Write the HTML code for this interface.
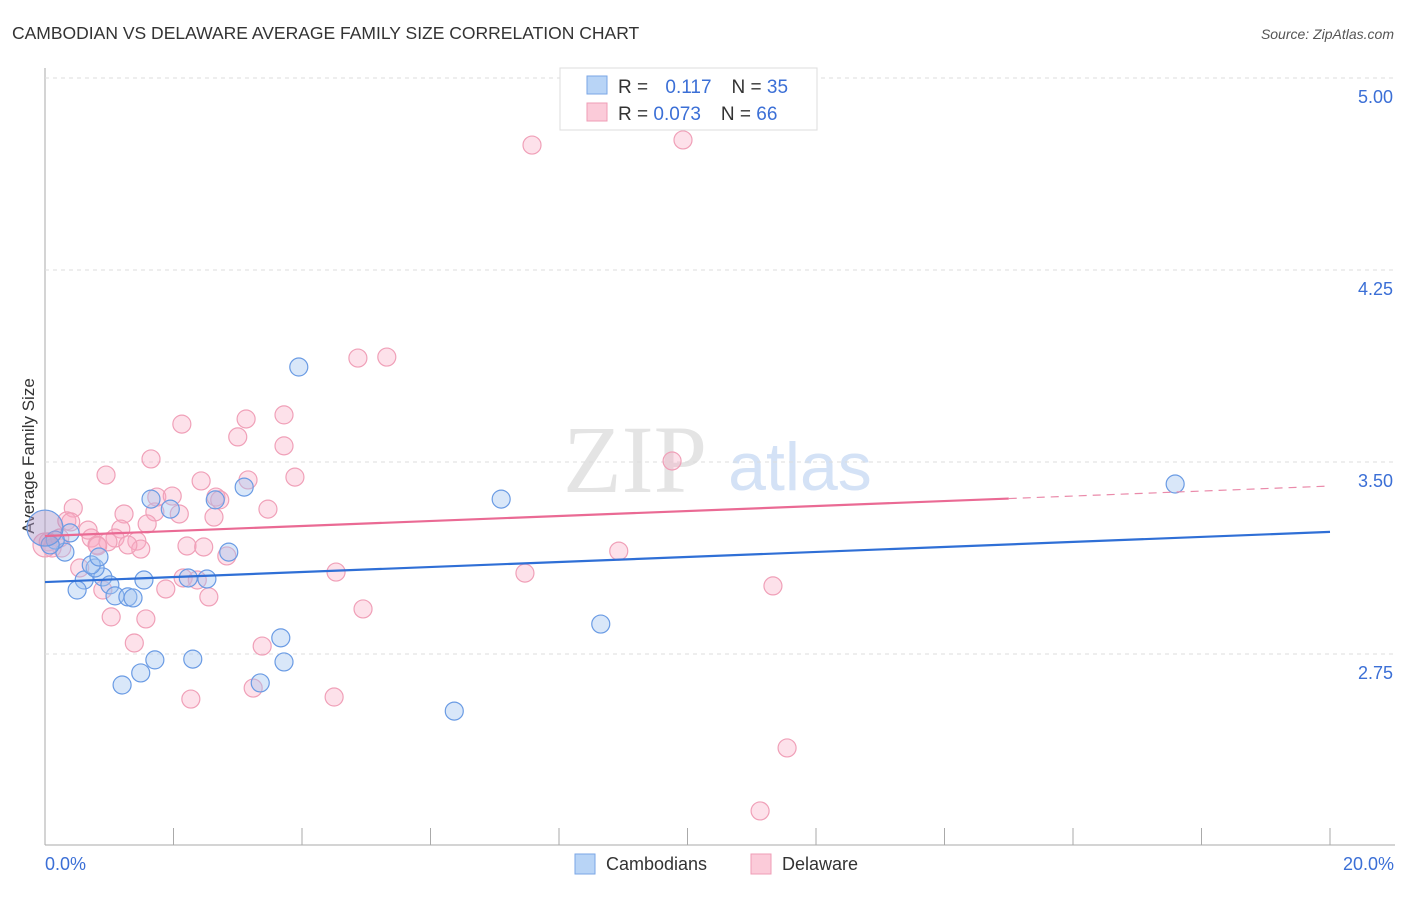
<!DOCTYPE html>
<html><head><meta charset="utf-8"><style>
body{margin:0;background:#fff;font-family:"Liberation Sans",sans-serif}
</style></head><body>
<svg width="1406" height="892" xmlns="http://www.w3.org/2000/svg" id="svg" font-family="Liberation Sans, sans-serif">
<text x="12" y="39" font-size="17.5" fill="#333">CAMBODIAN VS DELAWARE AVERAGE FAMILY SIZE CORRELATION CHART</text>
<text x="1394" y="39" font-size="14" fill="#555" text-anchor="end" font-style="italic">Source: ZipAtlas.com</text>
<text x="0" y="0" transform="translate(34,456) rotate(-90)" font-size="17" fill="#333" text-anchor="middle">Average Family Size</text>
<text x="635" y="492" font-size="96" fill="#e4e4e4" font-family="Liberation Serif, serif" text-anchor="middle">ZIP</text>
<text x="800" y="490" font-size="68" fill="#d4e2f6" text-anchor="middle">atlas</text>
<g id="grid"></g><g id="marks"></g>
<g>
<rect x="560" y="68" width="257" height="62" fill="#fff" stroke="#ddd"/>
<rect x="587" y="76" width="20" height="18" fill="#b8d4f6" stroke="#7aa6e6"/>
<rect x="587" y="103" width="20" height="18" fill="#fbcbd9" stroke="#ef9db6"/>
<text x="618" y="93" font-size="19" fill="#333">R = <tspan fill="#3b6fd6" dx="12">0.117</tspan><tspan dx="20" fill="#333">N = </tspan><tspan fill="#3b6fd6">35</tspan></text>
<text x="618" y="120" font-size="19" fill="#333">R = <tspan fill="#3b6fd6">0.073</tspan><tspan dx="20" fill="#333">N = </tspan><tspan fill="#3b6fd6">66</tspan></text>
</g>
<g>
<rect x="575" y="854" width="20" height="20" fill="#b8d4f6" stroke="#7aa6e6"/>
<text x="606" y="870" font-size="18" fill="#333">Cambodians</text>
<rect x="751" y="854" width="20" height="20" fill="#fbcbd9" stroke="#ef9db6"/>
<text x="782" y="870" font-size="18" fill="#333">Delaware</text>
</g>
</svg>
<script>
const xTicks=[2,4,6,8,10,12,14,16,18,20];
const yTicks=[2.75,3.5,4.25,5.0];
const yTickLabels=["2.75","3.50","4.25","5.00"];
const blueX=[3.95,7.10,17.59,8.65,6.37,3.10,1.65,1.95,2.65,2.86,2.52,2.23,1.54,0.61,0.50,0.90,1.01,1.09,1.29,1.37,0.78,0.72,0.84,0.39,0.31,0.16,0.08,1.71,1.49,1.20,2.30,3.67,3.72,3.35,0];
const blueY=[3.871,3.355,3.414,2.867,2.527,3.402,3.355,3.316,3.352,3.148,3.043,3.047,3.039,3.039,3.000,3.051,3.020,2.977,2.973,2.969,3.086,3.098,3.129,3.223,3.148,3.195,3.176,2.727,2.676,2.629,2.730,2.813,2.719,2.637,3.242];
const pinkX=[7.58,9.93,4.87,5.32,2.13,3.72,3.13,3.00,3.72,1.65,0.95,3.89,9.76,2.43,2.66,2.72,3.16,1.74,1.71,2.09,1.23,2.63,3.47,0.44,0.34,0.67,1.18,1.59,0.72,0.81,1.09,2.21,2.47,1.43,1.49,2.83,0.26,0.11,0.05,8.93,4.53,7.47,0.54,2.15,2.37,1.88,0.90,2.55,11.33,4.95,1.03,1.57,1.39,3.38,2.27,3.24,4.50,11.55,11.13,0.40,0.23,0.98,1.29,0.82,0,1.98];
const pinkY=[4.738,4.758,3.906,3.910,3.648,3.684,3.668,3.598,3.563,3.512,3.449,3.441,3.504,3.426,3.363,3.352,3.430,3.363,3.305,3.297,3.297,3.285,3.316,3.320,3.270,3.234,3.238,3.258,3.203,3.176,3.203,3.172,3.168,3.191,3.160,3.133,3.164,3.164,3.188,3.152,3.070,3.066,3.086,3.047,3.039,3.004,3.000,2.973,3.016,2.926,2.895,2.887,2.793,2.781,2.574,2.617,2.582,2.383,2.137,3.266,3.203,3.188,3.176,3.172,3.176,3.367];
const blueTrend=[3.031,3.227];
const pinkTrend=[3.211,3.406];
const pinkSolidEnd=15.0;

const NS="http://www.w3.org/2000/svg";
const sx=v=>45+v/20*1285;
const sy=v=>78+(5-v)*256;
function mk(tag,attrs,parent){const e=document.createElementNS(NS,tag);for(const k in attrs)e.setAttribute(k,attrs[k]);document.getElementById(parent).appendChild(e);return e;}
let e;
e=mk('line',{x1:45,y1:68,x2:45,y2:845,stroke:'#aaa'},'grid');


e=mk('line',{x1:45,y1:845,x2:1395,y2:845,stroke:'#aaa'},'grid');


yTicks.forEach((t,i)=>{
  e=mk('line',{x1:45,y1:sy(t),x2:1395,y2:sy(t),stroke:'#ddd','stroke-dasharray':'4,4'},'grid');
  
  
  e=mk('text',{x:1393,y:sy(t)+25,'font-size':18,fill:'#3b6fd6','text-anchor':'end'},'grid');
  e.textContent=yTickLabels[i];
  
  
});
xTicks.forEach(t=>{
  e=mk('line',{x1:sx(t),y1:828,x2:sx(t),y2:845,stroke:'#aaa'},'grid');
  
  
});
e=mk('text',{x:45,y:870,'font-size':18,fill:'#3b6fd6'},'grid');e.textContent='0.0%';


e=mk('text',{x:1394,y:870,'font-size':18,fill:'#3b6fd6','text-anchor':'end'},'grid');e.textContent='20.0%';



pinkX.forEach((x,i)=>{
  e=mk('circle',{cx:sx(x),cy:sy(pinkY[i]),r:x===0?12:9,fill:'rgba(248,170,195,0.35)',stroke:'#f0a0b8','stroke-width':1.2},'marks');
  
  
});
blueX.forEach((x,i)=>{
  e=mk('circle',{cx:sx(x),cy:sy(blueY[i]),r:x===0?18:9,fill:x===0?'rgba(170,150,200,0.45)':'rgba(160,196,240,0.4)',stroke:'#6a9be4','stroke-width':1.2},'marks');
  
  
});
e=mk('line',{x1:sx(0),y1:sy(blueTrend[0]),x2:sx(20),y2:sy(blueTrend[1]),stroke:'#2f6fd6','stroke-width':2.2},'marks');


const pf=x=>pinkTrend[0]+(pinkTrend[1]-pinkTrend[0])*x/20;
e=mk('line',{x1:sx(0),y1:sy(pf(0)),x2:sx(pinkSolidEnd),y2:sy(pf(pinkSolidEnd)),stroke:'#ea6a94','stroke-width':2.2},'marks');


e=mk('line',{x1:sx(pinkSolidEnd),y1:sy(pf(pinkSolidEnd)),x2:sx(20),y2:sy(pf(20)),stroke:'#ea8aaa','stroke-width':1.2,'stroke-dasharray':'8,6'},'marks');


</script>
</body></html>
